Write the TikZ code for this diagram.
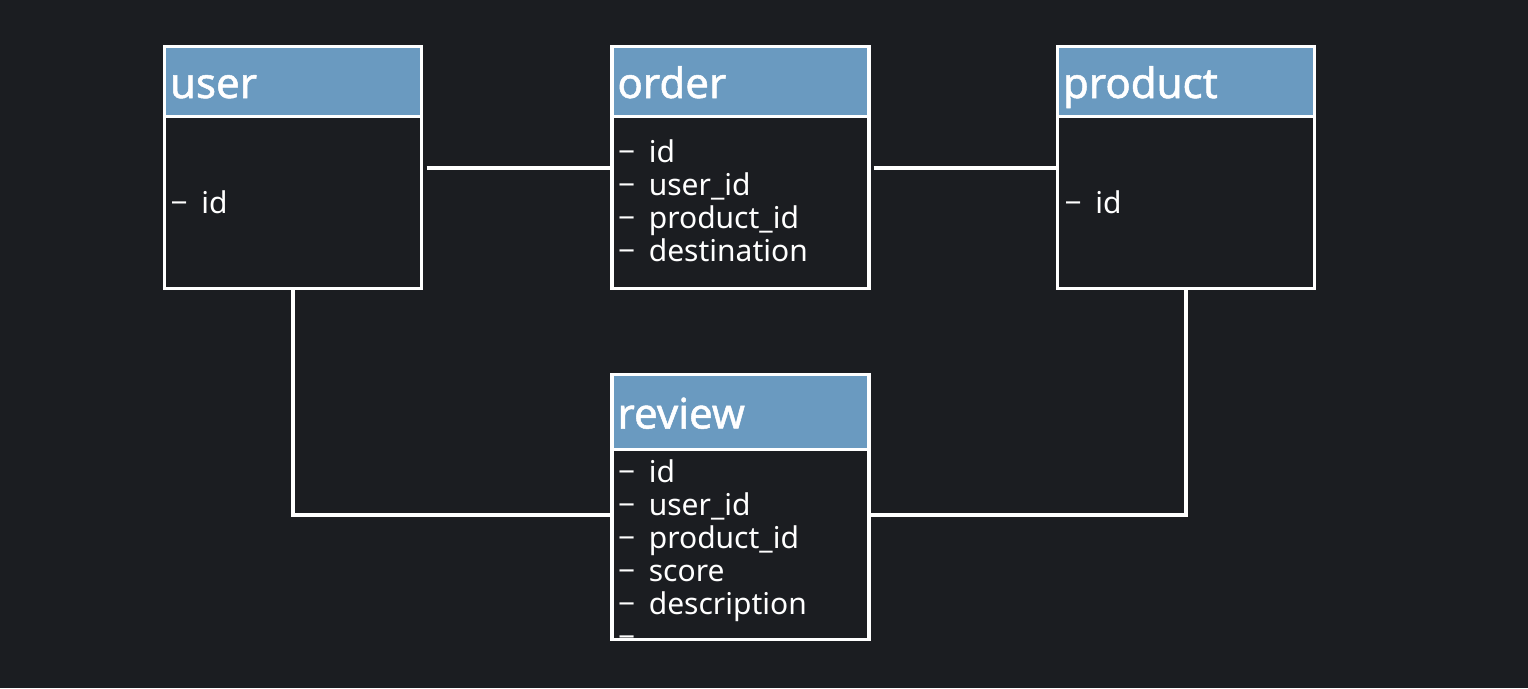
\documentclass[tikz,border=0pt]{standalone}
\usepackage{fontspec}
\setmainfont{Noto Sans}
\newfontfamily\headfont[FakeBold=1.2]{Noto Sans}
\usepackage{xcolor}
\usetikzlibrary{positioning}
\definecolor{bgcol}{HTML}{1B1D21}
\definecolor{headcol}{HTML}{6A9AC0}
\newcommand\fld[1]{−\hspace{.45em}#1}
\tikzstyle{tblhead}=[draw=white,line width=3.5pt,fill=headcol,text=white,outer sep=0pt,inner sep=0pt,
  minimum width=257pt,minimum height=70pt,text width=246pt,align=left,
  font=\headfont\fontsize{42}{42}\selectfont,text height=33pt,text depth=0pt]
\tikzstyle{tblbody}=[draw=white,line width=3.5pt,fill=bgcol,outer sep=0pt,inner sep=0pt,minimum width=257pt]
\tikzstyle{fields}=[text=white,inner sep=0pt,align=left,anchor=north west,font=\fontsize{30}{33}\selectfont]
\tikzstyle{link}=[draw=white,line width=3.5pt]

\begin{document}
\begin{tikzpicture}[x=1pt,y=-1pt]
	\fill[bgcol] (0,0) rectangle (1528,688);
	% tables
	\node[tblhead] (userH)    at (293,81.5)   {user};
	\node[tblhead] (orderH)   at (740.5,81.5) {order};
	\node[tblhead] (productH) at (1186,81.5)  {product};
	\node[tblhead,minimum height=75pt] (reviewH) at (740.5,412) {review};
	\node[tblbody,minimum height=172pt,below=0pt of userH]    (userB)    {};
	\node[tblbody,minimum height=172pt,below=0pt of orderH]   (orderB)   {};
	\node[tblbody,minimum height=172pt,below=0pt of productH] (productB) {};
	\node[tblbody,minimum height=190pt,below=0pt of reviewH]  (reviewB)  {};
	% fields
	\node[fields] (userF)    at ([xshift=6pt,yshift=-73.5pt]userB.north west)    {\fld{id}};
	\node[fields] (productF) at ([xshift=7pt,yshift=-73.5pt]productB.north west) {\fld{id}};
	\node[fields] (orderF)   at ([xshift=6pt,yshift=-22.7pt]orderB.north west)
		{\fld{id}\\\fld{user\_id}\\\fld{product\_id}\\\fld{destination}};
	\node[fields] (reviewF)  at ([xshift=6pt,yshift=-9.7pt]reviewB.north west)
		{\fld{id}\\\fld{user\_id}\\\fld{product\_id}\\\fld{score}\\\fld{description}\\−};
	% relations
	\draw[link] ([xshift=5pt,yshift=-51.5pt]userB.north east) -- ([yshift=-51.5pt]orderB.north west);
	\draw[link] ([xshift=4.5pt,yshift=-51.5pt]orderB.north east) -- ([yshift=-51.5pt]productB.north west);
	\draw[link] (userB.south) |- ([yshift=-65.5pt]reviewB.north west);
	\draw[link] (productB.south) |- ([yshift=-65.5pt]reviewB.north east);
\end{tikzpicture}
\end{document}
